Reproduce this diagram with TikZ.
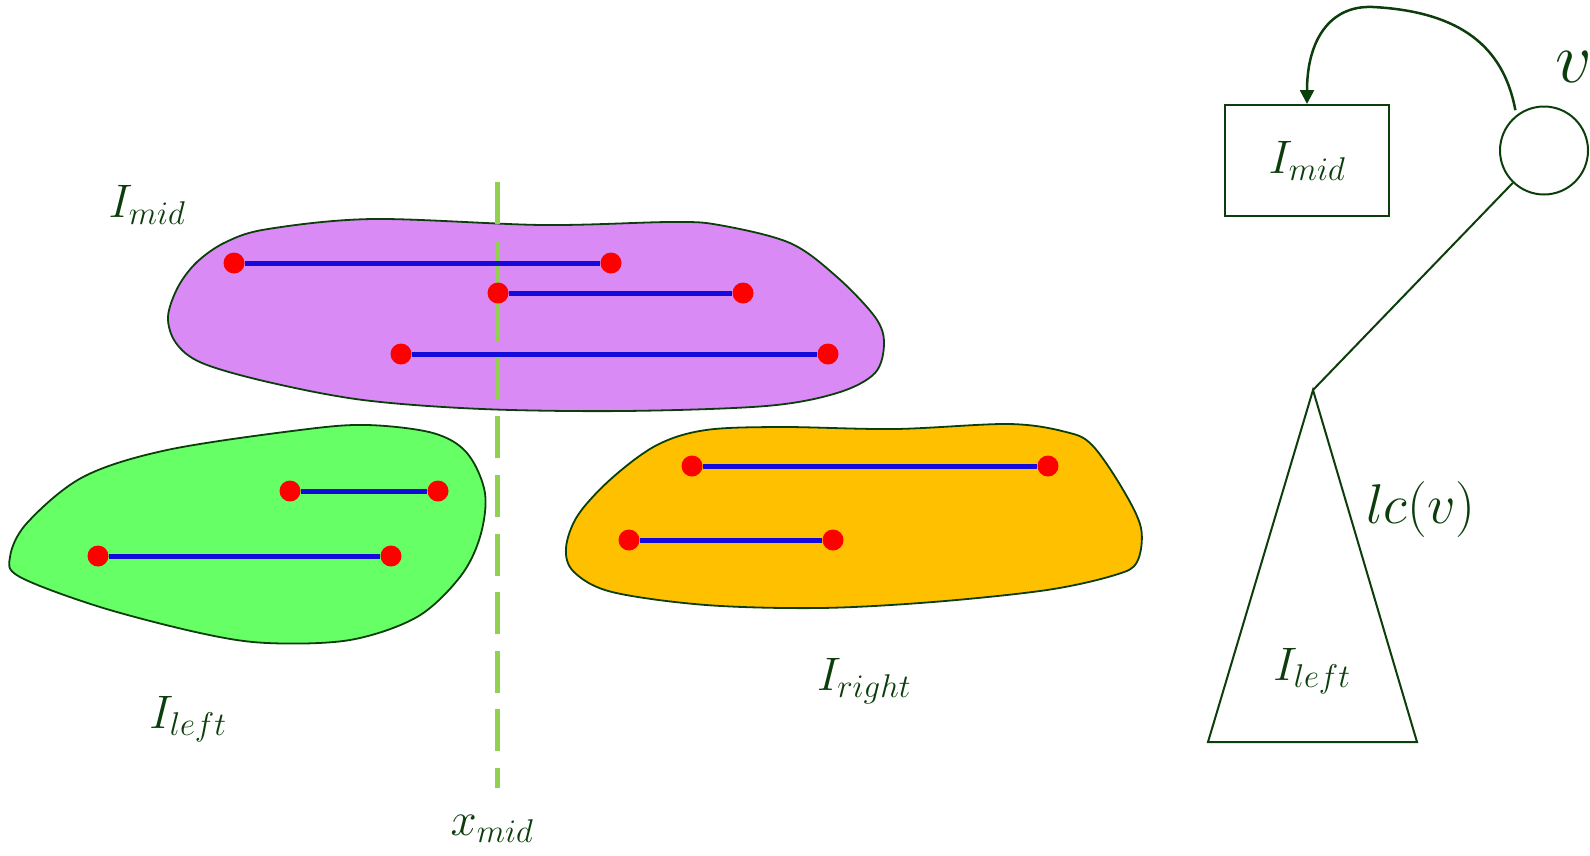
\RequirePackage{fix-cm}
\documentclass[tikz,border=0pt]{standalone}
\usetikzlibrary{arrows.meta}
\definecolor{txt}{RGB}{12,62,12}
\definecolor{dashg}{RGB}{146,208,80}
\definecolor{purp}{RGB}{217,138,245}
\definecolor{grn}{RGB}{102,255,102}
\definecolor{org}{RGB}{255,192,0}
\definecolor{blu}{RGB}{20,10,220}
\definecolor{rd}{RGB}{255,0,0}
\begin{document}
\begin{tikzpicture}[x=1pt,y=-1pt,
  blob/.style={draw=txt, line width=1.8pt},
  dot/.style={circle, fill=rd, inner sep=0pt, minimum size=21pt},
  seg/.style={blu, line width=5pt},
  lbl/.style={text=txt, font=\fontsize{47}{56}\selectfont, inner sep=0pt, anchor=base},
  edge/.style={txt, line width=2pt}]
\useasboundingbox (0,0) rectangle (1590,855);
% blobs
\draw[blob, fill=purp] plot[smooth cycle, tension=0.55] coordinates {
 (168,317) (178,287) (197,262) (226,242) (268,229) (373,219) (543,225) (671,222)
 (719,225) (790,243) (837,277) (875,317) (884,343) (875,373) (837,393) (766,406)
 (624,411) (482,409) (363,400) (268,382) (202,363) (176,343)};
\draw[blob, fill=grn] plot[smooth cycle, tension=0.55] coordinates {
 (10,557) (27,523) (83,477) (167,450) (300,430) (367,425) (433,433) (467,453)
 (485,493) (480,537) (460,577) (417,617) (350,640) (267,643) (200,633) (100,607) (20,577)};
\draw[blob, fill=org] plot[smooth cycle, tension=0.55] coordinates {
 (566,548) (578,515) (612,478) (657,445) (706,430) (782,427) (895,429) (1009,424)
 (1066,432) (1092,445) (1122,488) (1141,528) (1137,562) (1115,575) (1047,590)
 (933,602) (820,608) (706,605) (612,592) (574,572)};
% dashed x_mid line
\coordinate (xt) at (497,182);
\coordinate (xb) at (497,788);
\draw[dashg, line width=5pt, dash pattern=on 42pt off 16.6pt] (xt) -- (xb);
% interval end points
\node[dot] (a1) at (234,263) {};  \node[dot] (b1) at (611,263) {};
\node[dot] (a2) at (498,293) {};  \node[dot] (b2) at (743,293) {};
\node[dot] (a3) at (401,354) {};  \node[dot] (b3) at (828,354) {};
\node[dot] (a4) at (290,491) {};  \node[dot] (b4) at (438,491) {};
\node[dot] (a5) at (98,556) {};   \node[dot] (b5) at (391,556) {};
\node[dot] (a6) at (692,466) {};  \node[dot] (b6) at (1048,466) {};
\node[dot] (a7) at (629,540) {};  \node[dot] (b7) at (833,540) {};
\foreach \i in {1,...,7} {\draw[seg] (a\i) -- (b\i);}
% labels
\node[lbl] (lmid) at (147,217) {$I_{mid}$};
\node[lbl] (lleft) at (188,728) {$I_{left}$};
\node[lbl] (lright) at (864,690) {$I_{right}$};
\node[lbl] (xmid) at (492,835) {$x_{mid}$};
% tree on the right
\node[draw=txt, line width=2pt, minimum width=164pt, minimum height=111pt,
      inner sep=0pt, text=txt, font=\fontsize{47}{56}\selectfont] (box) at (1307,160.5) {$I_{mid}$};
\node[circle, draw=txt, line width=2pt, minimum size=88pt, inner sep=0pt] (vnode) at (1544,150.5) {};
\node[lbl, font=\fontsize{72}{80}\selectfont] (vlab) at (1574,82) {$v$};
\coordinate (apex) at (1313,390);
\coordinate (tbl) at (1208,742);
\coordinate (tbr) at (1417,742);
\draw[edge] (apex) -- (tbl) -- (tbr) -- cycle;
\draw[edge] (apex) -- (vnode);
\node[lbl] (tleft) at (1312,680) {$I_{left}$};
\node[lbl, font=\fontsize{56}{64}\selectfont] (lcv) at (1421,523) {$lc(v)$};
\draw[txt, line width=2.5pt, shorten <=5pt, -{Triangle[width=14pt,length=14pt]}]
  (vnode.128) .. controls (1505,55) and (1470,12) .. (1373,7)
  .. controls (1330,5) and (1307,40) .. (box.north);
\end{tikzpicture}
\end{document}
